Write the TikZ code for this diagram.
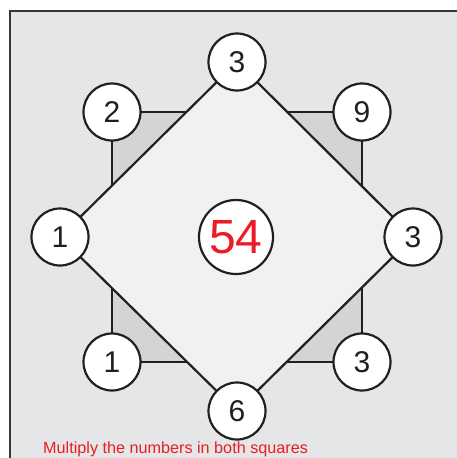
\documentclass[tikz,border=0pt]{standalone}
\usepackage{fontspec}
\setmainfont{Liberation Sans}
\usetikzlibrary{backgrounds}
\definecolor{bggray}{HTML}{E5E6E8}
\definecolor{sqgray}{HTML}{D3D4D6}
\definecolor{dmgray}{HTML}{F0F1F3}
\definecolor{inkgray}{HTML}{231F20}
\definecolor{numred}{HTML}{ED1C24}
\tikzset{numc/.style = {circle, draw=inkgray, line width=2.2pt, fill=white,
                        minimum size=57pt, inner sep=0pt, text=inkgray,
                        font=\fontsize{30}{30}\selectfont},
         edge/.style = {draw=inkgray, line width=2.2pt, line join=miter}}

\begin{document}
\begin{tikzpicture}[x=1pt, y=-1pt]
    \useasboundingbox (0, 0) rectangle (456, 458);
    % corners of the square
    \node [numc] (sqa) at (112, 112) {2};
    \node [numc] (sqb) at (362, 112) {9};
    \node [numc] (sqc) at (362, 362) {3};
    \node [numc] (sqd) at (112, 362) {1};
    % corners of the diamond
    \node [numc] (dma) at (237, 62) {3};
    \node [numc] (dmb) at (413, 237) {3};
    \node [numc] (dmc) at (237, 411) {6};
    \node [numc] (dmd) at (60, 237) {1};
    \node [numc, minimum size=74pt, text=numred,
           font=\fontsize{48}{48}\selectfont] (prod) at (236, 237) {54};
    \node [anchor=base west, text=numred, inner sep=0pt,
           font=\fontsize{16.2}{16.2}\selectfont] (hint) at (43, 453.5)
          {Multiply the numbers in both squares};
    \begin{scope}[on background layer]
      \draw [line width=2.2pt, draw=inkgray!90, fill=bggray] (10, 11) rectangle (480, 480);
      \path [edge, fill=sqgray] (sqa.center) -- (sqb.center) -- (sqc.center)
            -- (sqd.center) -- cycle;
      \path [edge, fill=dmgray] (dma.center) -- (dmb.center) -- (dmc.center)
            -- (dmd.center) -- cycle;
    \end{scope}
\end{tikzpicture}
\end{document}
